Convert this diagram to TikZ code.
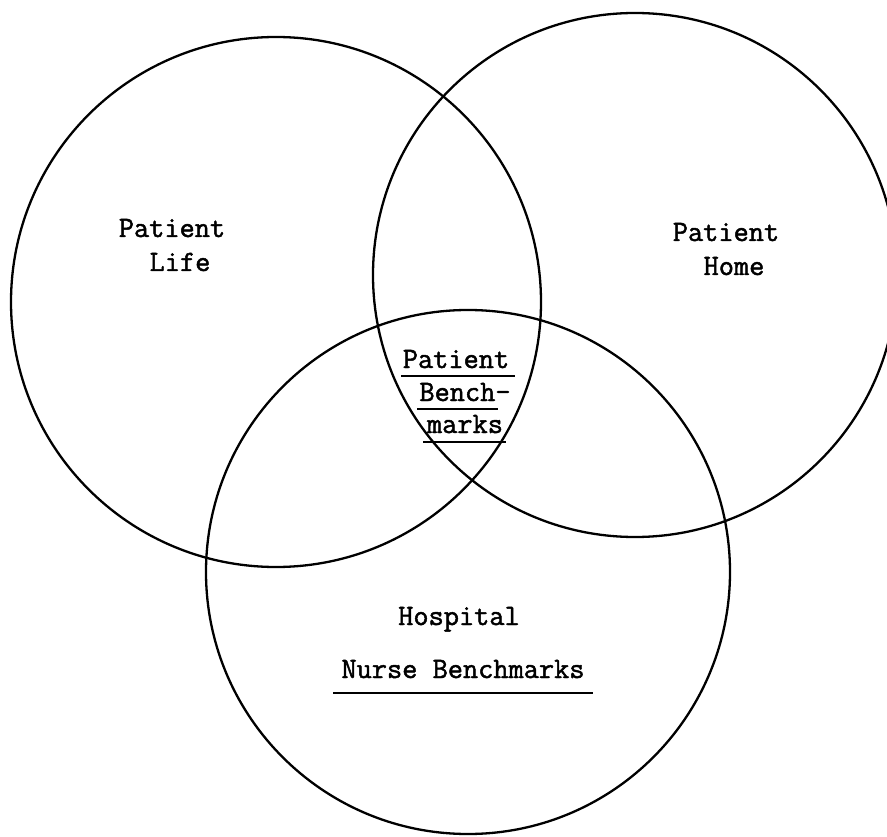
\documentclass[tikz,border=0pt]{standalone}
\usepackage{fontspec}
\setmonofont{Latin Modern Mono}[FakeBold=1.6]
\begin{document}
\begin{tikzpicture}[x=1pt,y=-1pt,
  circ/.style={line width=2.3pt},
  uline/.style={line width=2pt},
  lbl/.style={font=\ttfamily\fontsize{29.5}{34}\selectfont, inner sep=0pt, anchor=base}]
\useasboundingbox (0,0) rectangle (887,837);
% circles
\draw[circ] (276,302) circle[radius=265];
\draw[circ] (635,275) circle[radius=262];
\draw[circ] (468,572) circle[radius=262];
% labels
\node[lbl] (pl1) at (172,237) {Patient};
\node[lbl] (pl2) at (180,271) {Life};
\node[lbl] (ph1) at (726,241) {Patient};
\node[lbl] (ph2) at (734,275) {Home};
\node[lbl] (pb1) at (456,368) {Patient};
\node[lbl] (pb2) at (465,401) {Bench-};
\node[lbl] (pb3) at (465,433) {marks};
\node[lbl] (ho1) at (459,625) {Hospital};
\node[lbl] (nb1) at (463,678) {Nurse Benchmarks};
% underlines
\draw[uline] (401,376) -- (515,376);
\draw[uline] (417,409) -- (498,409);
\draw[uline] (423,442) -- (506,442);
\draw[uline] (333,693) -- (593,693);
\end{tikzpicture}
\end{document}
